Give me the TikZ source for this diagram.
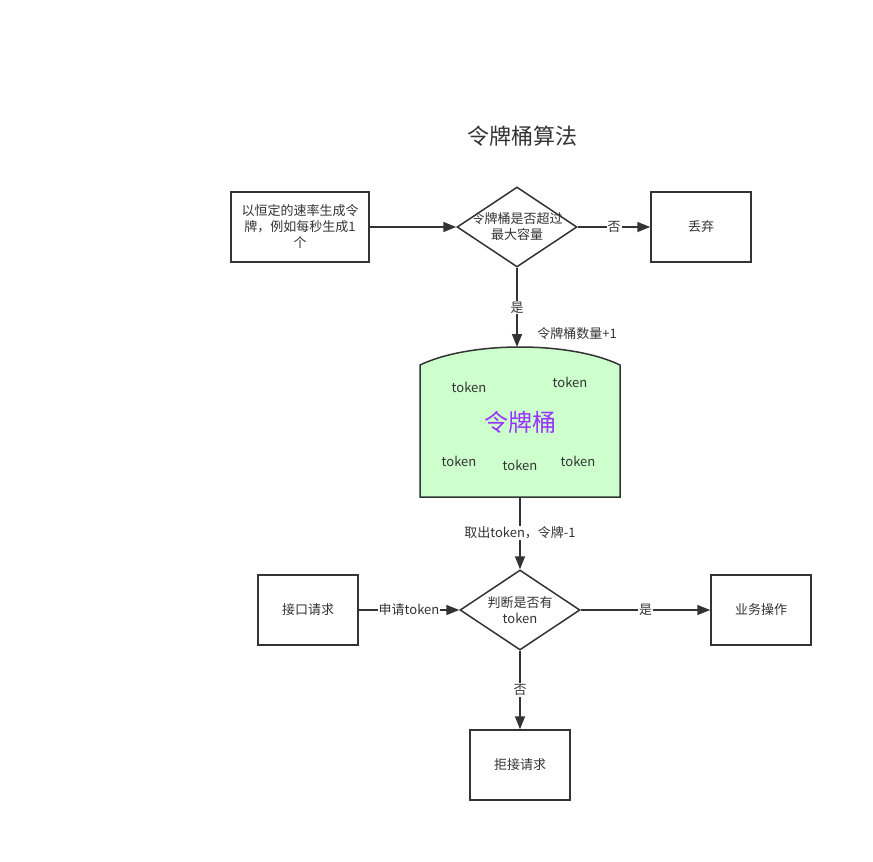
\documentclass[tikz,border=0pt]{standalone}
\usepackage{fontspec}
\setmainfont{Noto Sans CJK SC}
\usetikzlibrary{shapes.geometric,arrows.meta}
\definecolor{linegray}{HTML}{333333}
\definecolor{bucketgreen}{HTML}{CCFFCC}
\definecolor{bucketpurple}{HTML}{9933FF}
\tikzset{
  box/.style={draw=linegray, line width=1.5pt, minimum height=70pt, inner sep=0pt, align=center},
  decision/.style={draw=linegray, line width=1.5pt, shape=diamond, minimum width=120pt, minimum height=80pt, inner sep=0pt},
  txt/.style={text=linegray, font=\fontsize{13}{16}\selectfont, align=center, inner sep=0pt},
  flow/.style={draw=linegray, line width=1.5pt, -{Triangle[length=13pt,width=10pt]}},
  lbl/.style={txt, fill=white, inner sep=1pt}
}
\begin{document}
\begin{tikzpicture}[x=1pt, y=-1pt]
    \useasboundingbox (0,0) rectangle (873,862);

    % 标题
    \node[txt, font=\fontsize{22}{26}\selectfont] (title) at (522,136) {令牌桶算法};

    % 生成令牌
    \node[box, txt, minimum width=138pt, minimum height=70pt] (gen) at (300,227) {以恒定的速率生成令\\牌，例如每秒生成1\\个};
    \node[decision] (full) at (517,227) {};
    \node[txt] (fulltxt) at (517,227) {令牌桶是否超过\\最大容量};
    \node[box, txt, minimum width=100pt, minimum height=70pt] (drop) at (701,227) {丢弃};

    % 令牌桶
    \draw[draw=linegray, fill=bucketgreen, line width=1.5pt]
      (420,497) -- (420,365) .. controls (470,341) and (570,341) .. (620,365) -- (620,497) -- cycle;
    \coordinate (buckettop) at (517,347);
    \coordinate (bucketbot) at (520,497);
    \node[txt, text=bucketpurple, font=\fontsize{24}{28}\selectfont] (bucket) at (520,422) {令牌桶};
    \node[txt] (tok1) at (469,387) {token};
    \node[txt] (tok2) at (570,382) {token};
    \node[txt] (tok3) at (459,461) {token};
    \node[txt] (tok4) at (520,465) {token};
    \node[txt] (tok5) at (578,461) {token};
    \node[txt] (plusone) at (577,334) {令牌桶数量+1};

    % 请求处理
    \node[decision] (check) at (520,610) {};
    \node[txt] (checktxt) at (520,610) {判断是否有\\token};
    \node[box, txt, minimum width=100pt] (req) at (308,610) {接口请求};
    \node[box, txt, minimum width=100pt] (biz) at (761,610) {业务操作};
    \node[box, txt, minimum width=100pt] (reject) at (520,765) {拒接请求};

    % 箭头
    \draw[flow] (gen) -- (full);
    \draw[flow] (full) -- node[lbl] {否} (drop);
    \draw[flow] (full) -- node[lbl] {是} (buckettop);
    \draw[flow] (bucketbot) -- node[lbl] {取出token，令牌-1} (check);
    \draw[flow] (req) -- node[lbl] {申请token} (check);
    \draw[flow] (check) -- node[lbl] {是} (biz);
    \draw[flow] (check) -- node[lbl] {否} (reject);
  \end{tikzpicture}
\end{document}
